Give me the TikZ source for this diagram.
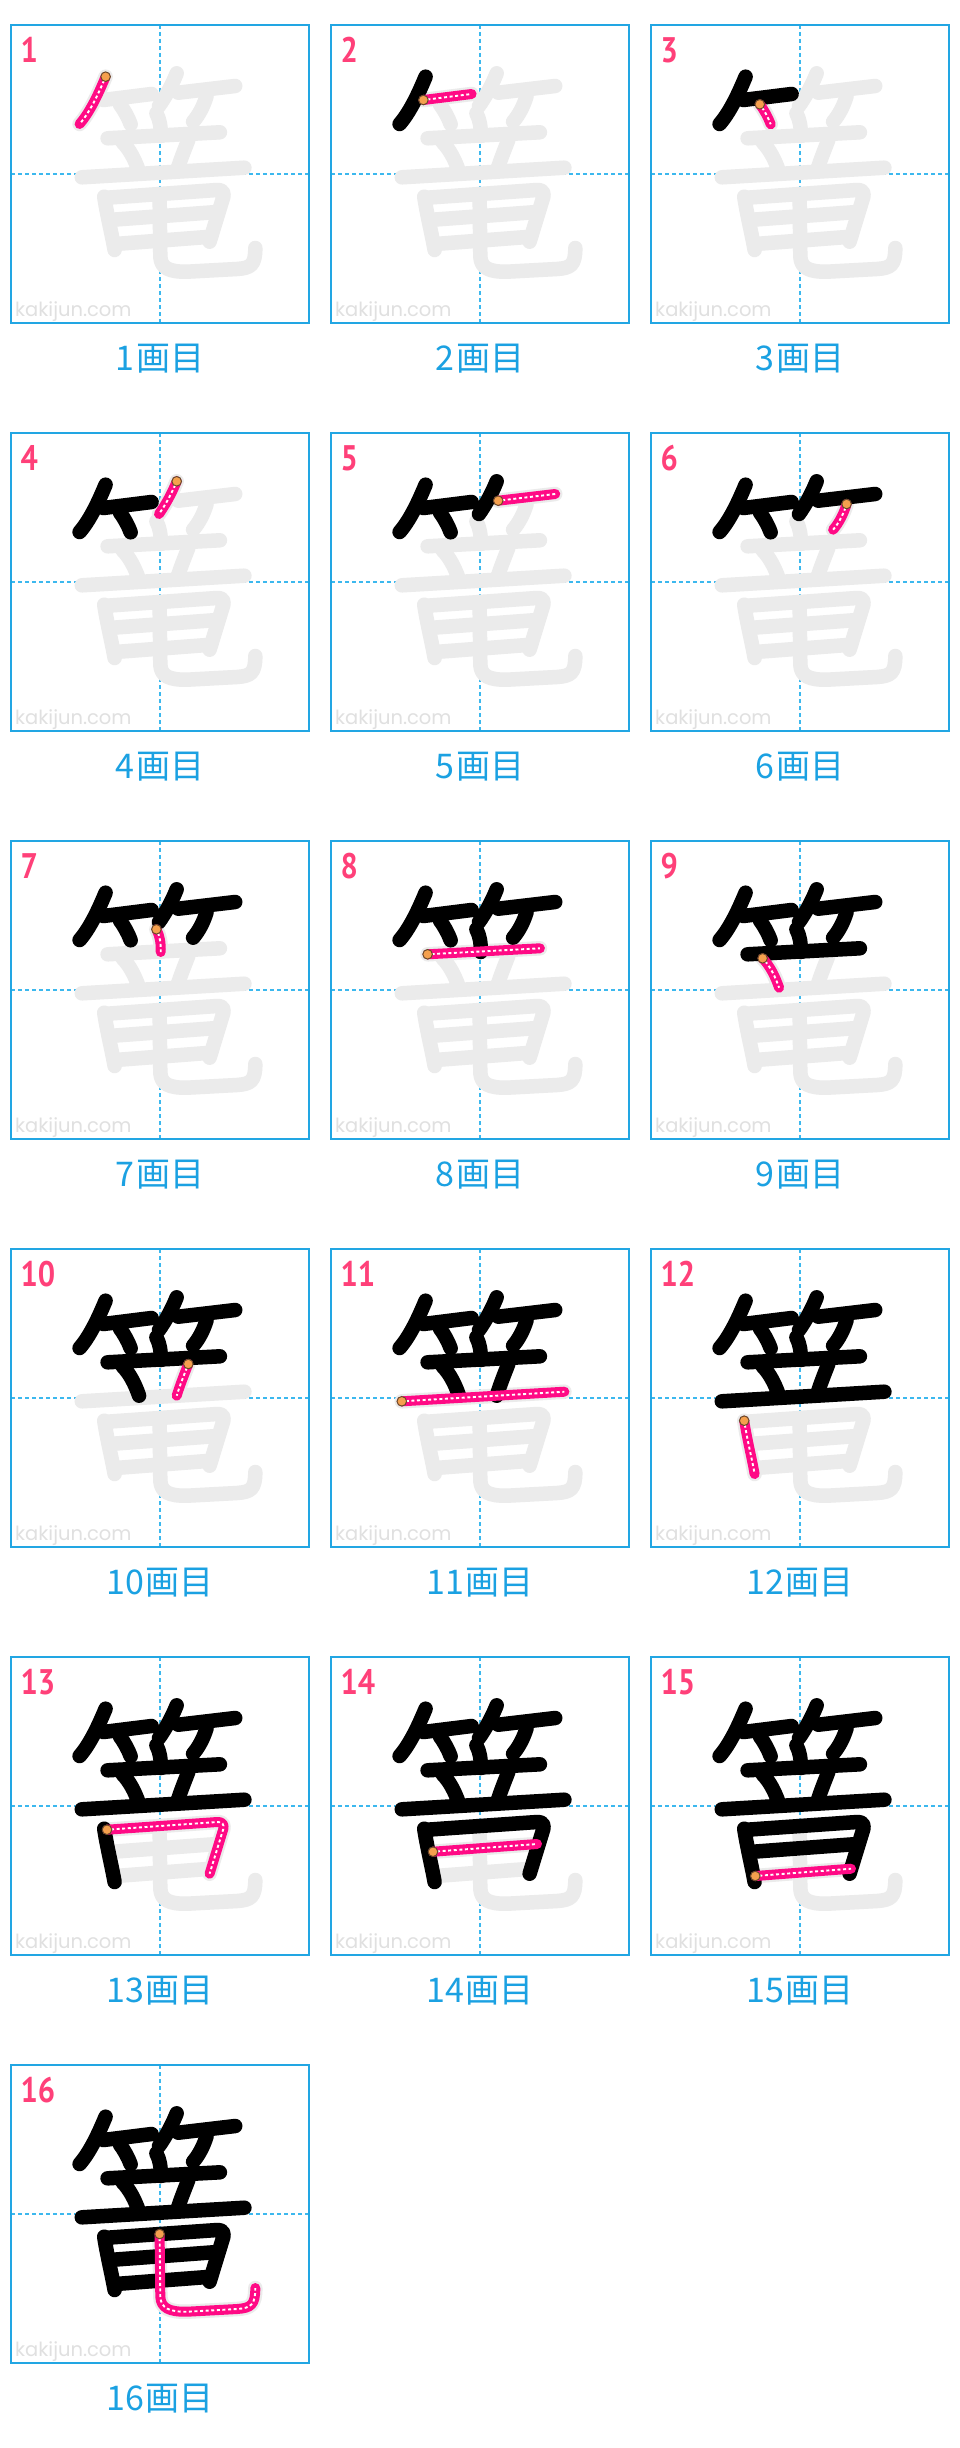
\documentclass[tikz,border=0pt]{standalone}
\usepackage{fontspec}
\newfontfamily\jp{Noto Sans CJK JP}
\newfontfamily\numfont{PT Sans}
\newfontfamily\wmfont{Poppins}
\definecolor{boxblue}{HTML}{22A6E3}
\definecolor{crossblue}{HTML}{3CB8EE}
\definecolor{numpink}{HTML}{FF4079}
\definecolor{labblue}{HTML}{1BA1E2}
\definecolor{gry}{HTML}{EBEBEB}
\definecolor{wmgrey}{HTML}{E0E0E0}
\definecolor{pnk}{HTML}{FF0A85}
\definecolor{dotfill}{HTML}{F5A04E}
\definecolor{dotline}{HTML}{6A4A2A}
\tikzset{
  base stroke/.style={line cap=round, line join=round, line width=14.5pt},
  greystroke/.style={base stroke, draw=gry},
  blackstroke/.style={base stroke, draw=black},
  pinkstroke/.style={line cap=round, line join=round, line width=10pt, draw=pnk},
  whitedash/.style={line width=1.9pt, draw=white, dash pattern=on 3pt off 2.6pt, dash phase=-4pt},
  startdot/.style={fill=dotfill, draw=dotline, line width=1pt},
  crossline/.style={draw=crossblue, line width=1.4pt, dash pattern=on 4pt off 3pt},
  boxline/.style={draw=boxblue, line width=1.6pt},
  numlabel/.style={anchor=base west, inner sep=0pt, xscale=0.86, text=numpink, font=\numfont\bfseries\fontsize{35.5}{35.5}\selectfont},
  steplabel/.style={anchor=base, inner sep=0pt, text=labblue, font=\jp\fontsize{34}{34}\selectfont},
  watermark/.style={anchor=base west, inner sep=0pt, text=wmgrey, font=\wmfont\fontsize{19.5}{19.5}\selectfont},
}
\newcommand{\ks}[2]{\ifcase#1\or
\draw[#2] (94.6,51.7) coordinate (st) .. controls (89,65) and (80,86) .. (68.6,99);\or
\draw[#2] (92.4,75) coordinate (st) -- (140.6,69);\or
\draw[#2] (108.8,79.3) coordinate (st) .. controls (113,85) and (117,92) .. (119.7,99.3);\or
\draw[#2] (165.7,48.3) coordinate (st) .. controls (161,60) and (155,71) .. (148,81);\or
\draw[#2] (167.2,67.7) coordinate (st) -- (224.2,61);\or
\draw[#2] (195.6,71) coordinate (st) .. controls (193,80) and (188,90) .. (182.1,96.7);\or
\draw[#2] (145.4,88.3) coordinate (st) .. controls (149,95) and (150,103) .. (149.7,111);\or
\draw[#2] (96.6,113.3) coordinate (st) -- (208.9,107.3);\or
\draw[#2] (111.6,117.3) coordinate (st) .. controls (119,125) and (124,135) .. (128.1,146.7);\or
\draw[#2] (177.3,115) coordinate (st) .. controls (173,126) and (169,136) .. (165.7,146.7);\or
\draw[#2] (70.8,152.3) coordinate (st) -- (233.4,142.7);\or
\draw[#2] (93.2,171.7) coordinate (st) .. controls (96,190) and (101,210) .. (103.6,225);\or
\draw[#2] (96,172.7) coordinate (st) -- (206,165) .. controls (211,164.7) and (213.5,167) .. (212.3,172) -- (198.6,216.7);\or
\draw[#2] (102,194.7) coordinate (st) -- (206,187);\or
\draw[#2] (104.3,219) coordinate (st) -- (200,211.7);\or
\draw[#2] (148.6,169) coordinate (st) -- (149.3,231.7) .. controls (150,243) and (158,247) .. (176,246.7) -- (226,244) .. controls (240,243) and (244.3,240) .. (244.3,223);\fi}
\begin{document}
\begin{tikzpicture}[x=1pt,y=-1pt]
\fill[white] (0,0) rectangle (960,2448);
\useasboundingbox (0,0) rectangle (960,2448);
\foreach \n [evaluate=\n as \c using {int(mod(\n-1,3))}, evaluate=\n as \r using {int((\n-1)/3)}, evaluate=\n as \m using {int(\n-1)}] in {1,...,16} {
  \begin{scope}[shift={(11+320*\c,25+408*\r)}]
    \draw[crossline] (149,0) -- (149,298);
    \draw[crossline] (0,149) -- (298,149);
    \node[watermark] (wm\n) at (4,291) {kakijun.com};
    \foreach \i in {1,...,16} {\ks{\i}{greystroke}}
    \ifnum\n>1
      \foreach \i in {1,...,\m} {\ks{\i}{blackstroke}}
    \fi
    \ks{\n}{pinkstroke}
    \ks{\n}{whitedash}
    \draw[startdot] (st) circle (4.8);
    \draw[boxline] (0,0) rectangle (298,298);
    \node[numlabel] (num\n) at (9.5,37.5) {\n};
    \node[steplabel] (lab\n) at (149,345) {{\n}\kern2pt 画目};
  \end{scope}
}
\end{tikzpicture}
\end{document}
